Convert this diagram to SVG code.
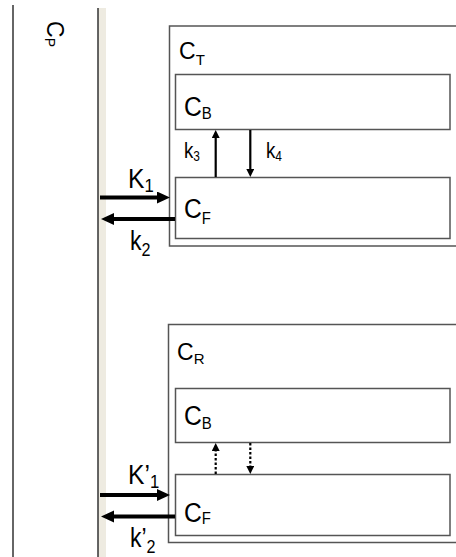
<svg xmlns="http://www.w3.org/2000/svg" width="456" height="557" viewBox="0 0 456 557">
<style>
text{font-family:"Liberation Sans",Arial,sans-serif;fill:#000}
.box{fill:#fff;stroke:#555;stroke-width:1.5}
.thick{stroke:#000;stroke-width:4;fill:none}
.thin{stroke:#000;stroke-width:2.2;fill:none}
.dot{stroke:#000;stroke-width:2.2;fill:none;stroke-dasharray:2.5 2}
</style>
<defs>
<marker id="big" markerUnits="userSpaceOnUse" markerWidth="14" markerHeight="14" refX="0" refY="6" orient="auto">
<path d="M0,0 L13,6 L0,12 z" fill="#000"/>
</marker>
<marker id="small" markerUnits="userSpaceOnUse" markerWidth="10" markerHeight="10" refX="0" refY="4" orient="auto">
<path d="M0,0 L8,4 L0,8 z" fill="#000"/>
</marker>
</defs>
<rect width="456" height="557" fill="#fff"/>
<g id="plasma">
<line x1="13" y1="5" x2="13" y2="557" stroke="#333" stroke-width="1.5"/>
<rect x="98" y="8" width="8" height="549" fill="#eeebe1"/>
<line x1="98" y1="8" x2="98" y2="557" stroke="#333" stroke-width="1.5"/>
<text transform="translate(47,21) rotate(90)" font-size="23">C<tspan font-size="14" dy="2">P</tspan></text>
</g>
<g id="target">
<rect class="box" x="169.5" y="26" width="300" height="220"/>
<text x="179" y="59" font-size="23">C<tspan font-size="15" dy="6">T</tspan></text>
</g>
<g id="target-bound">
<rect class="box" x="175.5" y="74.5" width="274.5" height="55"/>
<text transform="translate(184,116) scale(0.88,1)" font-size="28">C<tspan font-size="17" dy="2.5">B</tspan></text>
</g>
<g id="target-free">
<rect class="box" x="175.5" y="177.5" width="274.5" height="61"/>
<text transform="translate(184,218) scale(0.88,1)" font-size="28">C<tspan font-size="17" dy="6">F</tspan></text>
</g>
<g id="reference">
<rect class="box" x="168.5" y="324.5" width="300" height="218"/>
<text x="177" y="360" font-size="23">C<tspan font-size="15" dy="4">R</tspan></text>
</g>
<g id="reference-bound">
<rect class="box" x="175.5" y="388.5" width="274.5" height="54"/>
<text transform="translate(184,425) scale(0.88,1)" font-size="28">C<tspan font-size="17" dy="4">B</tspan></text>
</g>
<g id="reference-free">
<rect class="box" x="175.5" y="474.5" width="274.5" height="61"/>
<text transform="translate(184,522) scale(0.88,1)" font-size="28">C<tspan font-size="17" dy="1.5">F</tspan></text>
</g>
<g id="connectors">
<line class="thick" x1="100" y1="197.5" x2="157" y2="197.5" marker-end="url(#big)"/>
<line class="thick" x1="175" y1="219" x2="114" y2="219" marker-end="url(#big)"/>
<line class="thin" x1="215.7" y1="177" x2="215.7" y2="138" marker-end="url(#small)"/>
<line class="thin" x1="250.3" y1="130" x2="250.3" y2="169" marker-end="url(#small)"/>
<line class="thick" x1="100" y1="495" x2="157" y2="495" marker-end="url(#big)"/>
<line class="thick" x1="175" y1="516.5" x2="114" y2="516.5" marker-end="url(#big)"/>
<line class="dot" x1="215.7" y1="474" x2="215.7" y2="451" marker-end="url(#small)"/>
<line class="dot" x1="250.3" y1="443" x2="250.3" y2="466" marker-end="url(#small)"/>
</g>
<g id="labels">
<text transform="translate(128,188) scale(0.88,1)" font-size="28">K<tspan font-size="19" dy="4">1</tspan></text>
<text transform="translate(130,250) scale(0.85,1)" font-size="27">k<tspan font-size="19" dy="6">2</tspan></text>
<text transform="translate(184,158) scale(0.85,1)" font-size="22">k<tspan font-size="14" dy="3">3</tspan></text>
<text transform="translate(266,158) scale(0.85,1)" font-size="22">k<tspan font-size="14" dy="3">4</tspan></text>
<text transform="translate(128,484) scale(0.88,1)" font-size="28">K’<tspan font-size="19" dy="4">1</tspan></text>
<text transform="translate(130,547) scale(0.85,1)" font-size="27">k’<tspan font-size="19" dy="6">2</tspan></text>
</g>
</svg>
